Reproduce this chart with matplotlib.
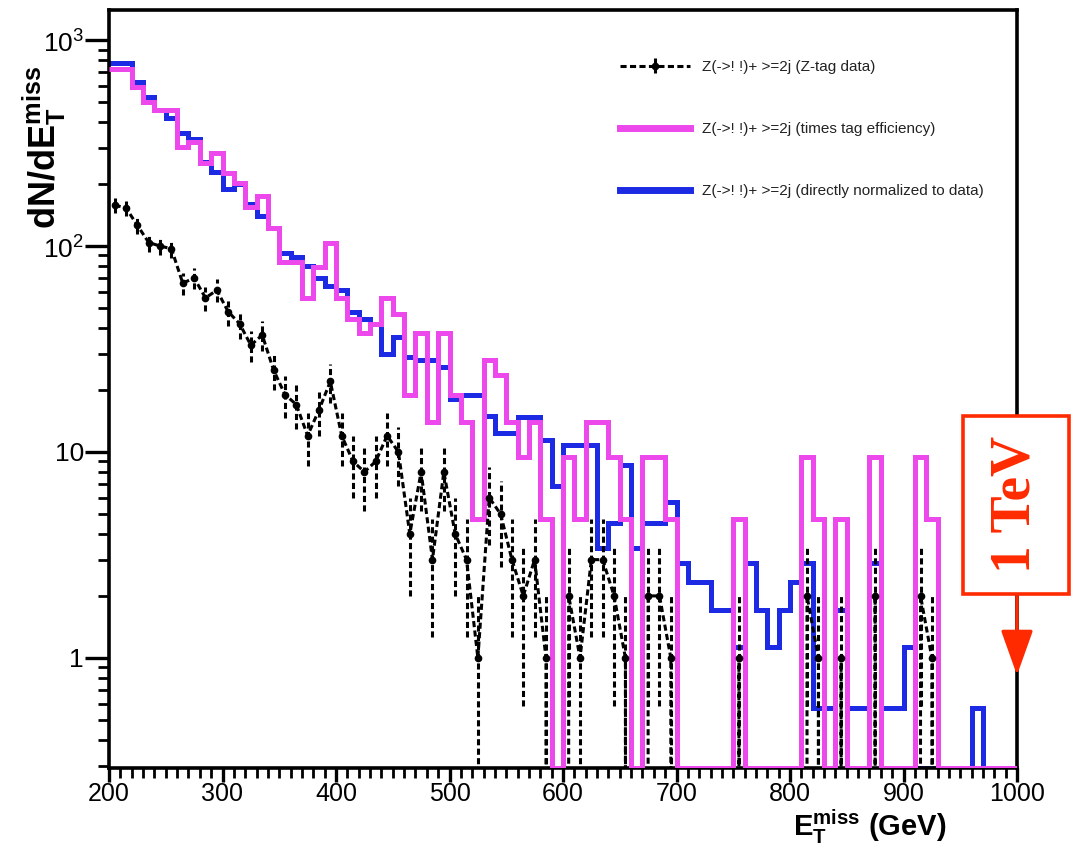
import numpy as np
import matplotlib
matplotlib.use("Agg")
import matplotlib.pyplot as plt
from matplotlib import font_manager as fm
from matplotlib.patches import Rectangle, FancyArrowPatch
from matplotlib.ticker import FixedLocator, FixedFormatter, NullFormatter, MultipleLocator

# ---------------- data (10 GeV bins from 200 to 1000 GeV) ----------------
bin_low = 200
bin_high = 1000
bin_width = 10

z_tag_data = [
    158, 153, 126, 104, 100, 97, 66, 70, 56, 61,
    48, 42, 33, 37, 25, 19, 17, 12, 16, 22,
    12, 9, 8, 9, 12, 10, 4, 8, 3, 8,
    4, 3, 1, 6, 5, 3, 2, 3, 1, 0,
    2, 1, 3, 3, 2, 1, 0, 2, 2, 1,
    0, 0, 0, 0, 0, 1, 0, 0, 0, 0,
    0, 2, 1, 0, 1, 0, 0, 2, 0, 0,
    0, 2, 1, 0, 0, 0, 0, 0, 0, 0]

times_tag_eff = [
    720, 720, 593, 500, 460, 460, 303, 320, 253, 283,
    226, 202, 155, 174, 122, 84, 84, 56, 79, 103,
    56, 44, 38, 42, 56, 47, 19, 38, 14, 38,
    19, 14, 4.7, 28, 23.6, 14, 9.5, 14, 4.7, 0,
    9.5, 4.7, 14, 14, 9.5, 4.7, 0, 9.5, 9.5, 4.7,
    0, 0, 0, 0, 0, 4.7, 0, 0, 0, 0,
    0, 9.5, 4.7, 0, 4.7, 0, 0, 9.5, 0, 0,
    0, 9.5, 4.7, 0, 0, 0, 0, 0, 0, 0]

normalized_to_data = [
    776, 776, 627, 527, 460, 420, 354, 330, 255, 228,
    190, 200, 160, 140, 122, 93, 88, 80, 70, 64,
    61, 48, 44, 42, 30, 36, 29, 28, 28, 26,
    18, 19, 19, 15, 12.3, 12.3, 14.8, 14.8, 11.4, 6.8,
    10.8, 10.8, 10.8, 3.4, 4.5, 8.6, 3.4, 4.5, 4.5, 5.7,
    2.9, 2.34, 2.34, 1.71, 1.71, 1.13, 2.9, 1.71, 1.13, 1.71,
    2.34, 2.9, 0.57, 0.57, 1.71, 0.57, 0.57, 2.9, 0.57, 0.57,
    1.13, 0, 0, 0, 0, 0, 0.57, 0, 0, 0]

labels = ["Z(->! !)+ >=2j (Z-tag data)",
          "Z(->! !)+ >=2j (times tag efficiency)",
          "Z(->! !)+ >=2j (directly normalized to data)"]

x_ticks = [200, 300, 400, 500, 600, 700, 800, 900, 1000]
y_ticks = [1, 10, 100, 1000]
y_tick_labels = ["1", "10", "$10^{2}$", "$10^{3}$"]

YMIN, YMAX = 0.292, 1400

# ---------------- fonts ----------------
names = {f.name for f in fm.fontManager.ttflist}
NARROW = "Liberation Sans Narrow" if "Liberation Sans Narrow" in names else "Liberation Sans"
plt.rcParams["font.family"] = ["Liberation Sans", "DejaVu Sans"]
plt.rcParams["mathtext.fontset"] = "custom"
plt.rcParams["mathtext.rm"] = NARROW
plt.rcParams["mathtext.bf"] = "Liberation Sans:bold"

fig = plt.figure(figsize=(10.71, 8.48), dpi=100)
W, H = 1071, 848
ax = fig.add_axes([109 / W, (H - 768) / H, (1017 - 109) / W, (768 - 10) / H])

edges = np.arange(bin_low, bin_high + bin_width, bin_width)
centers = edges[:-1] + bin_width / 2

def disp(v):
    v = np.asarray(v, dtype=float)
    return np.where(v > 0, v, YMIN)

blue = "#1c2ae4"
magenta = "#ec48ec"

ax.stairs(disp(normalized_to_data), edges, color=blue, lw=3.6, baseline=None, zorder=2)
ax.stairs(disp(times_tag_eff), edges, color=magenta, lw=3.6, baseline=None, zorder=3)

data = np.asarray(z_tag_data, dtype=float)
dash = (0, (2.0, 1.1))
eb = ax.errorbar(centers, data, yerr=np.sqrt(data), fmt="o", ls=dash,
                 color="black", ms=4.5, lw=2.2, elinewidth=2.2, capsize=0, zorder=4)
for c in eb[2]:
    c.set_linestyle(dash)

ax.set_yscale("log")
ax.set_xlim(bin_low, bin_high)
ax.set_ylim(YMIN, YMAX)

ax.xaxis.set_major_locator(FixedLocator(x_ticks))
ax.xaxis.set_minor_locator(MultipleLocator(10))
ax.yaxis.set_major_locator(FixedLocator(y_ticks))
ax.yaxis.set_major_formatter(FixedFormatter(y_tick_labels))
minors = [m * 10.0 ** e for e in range(-1, 4) for m in range(2, 10)]
ax.yaxis.set_minor_locator(FixedLocator(minors))
ax.yaxis.set_minor_formatter(NullFormatter())

ax.tick_params(axis="both", which="both", direction="out", top=False, right=False)
ax.tick_params(axis="x", which="major", length=10, width=2.4, labelsize=18, pad=0)
ax.tick_params(axis="x", which="minor", length=7, width=2.0)
ax.tick_params(axis="y", which="major", length=17, width=2.4, labelsize=19, pad=1)
ax.tick_params(axis="y", which="minor", length=8, width=2.0)
for lab in ax.get_xticklabels() + ax.get_yticklabels():
    lab.set_fontfamily(NARROW)
for s in ax.spines.values():
    s.set_linewidth(2.6)

# legend
handles = [eb,
           plt.Line2D([], [], color=magenta, lw=5),
           plt.Line2D([], [], color=blue, lw=5)]
leg = ax.legend(handles, labels,
                loc="upper left", bbox_to_anchor=(620 / W, 1 - 60 / H),
                bbox_transform=fig.transFigure, frameon=False, fontsize=11,
                handlelength=4.6, handletextpad=0.8, labelspacing=3.15,
                borderpad=0, borderaxespad=0)
for t in leg.get_texts():
    t.set_color("#222222")

# axis titles
fig.text(946 / W, 1 - 836 / H, r"E$_{\mathbf{T}}^{\mathbf{miss}}$ (GeV)", ha="right",
         va="baseline", fontsize=21, fontweight="bold")
fig.text(44 / W, 1 - 229 / H, r"dN/dE$_{\mathbf{T}}^{\mathbf{miss}}$", ha="center", va="bottom",
         rotation=90, fontsize=26, fontweight="bold")

# red 1 TeV annotation
red = "#ff2a00"
fig.patches.append(Rectangle((963 / W, 1 - 594 / H), (1069 - 963) / W, (594 - 416) / H,
                             transform=fig.transFigure, fill=True, facecolor="white",
                             edgecolor=red, lw=2.6, zorder=10))
fig.text(1016 / W, 1 - 504 / H, "1 TeV", rotation=90, ha="center", va="center",
         color=red, fontsize=40, fontweight="bold", family="Liberation Serif", zorder=11)
fig.patches.append(FancyArrowPatch((1017 / W, 1 - 594 / H), (1017 / W, 1 - 678 / H),
                                   transform=fig.transFigure,
                                   arrowstyle="-|>,head_length=1.4,head_width=0.5",
                                   mutation_scale=20, color=red, lw=2.4, zorder=10))

fig.savefig("out.png", dpi=100)
